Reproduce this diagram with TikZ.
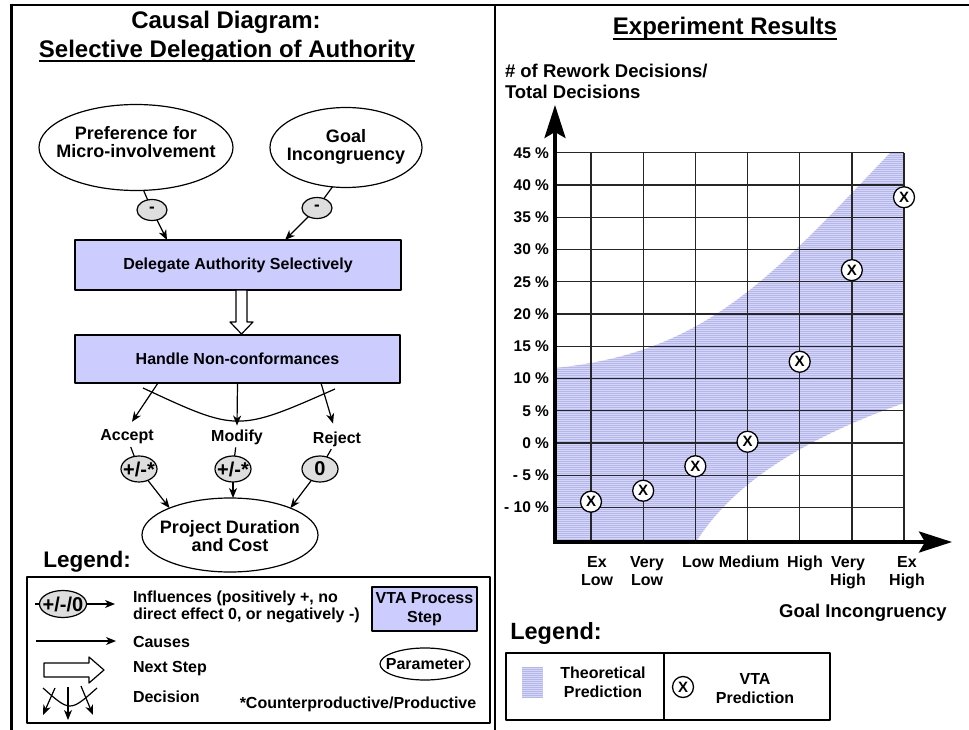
\documentclass[tikz,border=0pt]{standalone}
\usepackage{fontspec}
\setmainfont{Liberation Sans}
\usetikzlibrary{shapes.geometric,arrows.meta,calc}
\definecolor{stepfill}{RGB}{204,204,255}
\definecolor{badgefill}{RGB}{222,222,222}
\definecolor{bandfill}{RGB}{214,214,247}
\definecolor{hatchcol}{RGB}{182,182,238}
\newcommand\fsz[2]{\fontsize{#1}{#2}\selectfont\bfseries}
\newcommand\zw[1]{\makebox[0pt]{#1}}
\begin{document}
\begin{tikzpicture}[x=1pt,y=-1pt,line join=round,
  every node/.style={inner sep=0pt,outer sep=0pt,align=center,font=\fsz{16}{17.5}},
  ttl/.style={font=\fsz{24}{24}},
  param/.style={ellipse,draw,line width=1.2pt,fill=white},
  ptext/.style={font=\fsz{18}{18}},
  badge/.style={ellipse,draw,line width=1.2pt,fill=badgefill,font=\fsz{20}{20}},
  stepbox/.style={rectangle,draw,line width=1.2pt,fill=stepfill},
  conn/.style={line width=1.2pt},
  arr/.style={conn,-{Stealth[length=10pt,width=8pt,inset=3pt]}},
  hollow/.style={line width=1.2pt,fill=white},
  gridline/.style={line width=1.3pt,draw=black!85},
  axisline/.style={line width=3.5pt,-{Stealth[length=33pt,width=21pt,inset=6pt]}},
  hatchline/.style={draw=hatchcol,line width=0.9pt},
  xmark/.style={circle,draw,line width=1.3pt,fill=white,minimum size=21pt,font=\fsz{15}{15}},
  uline/.style={line width=2pt}
]
\useasboundingbox (0,0) rectangle (969,730);

% ---------- frame ----------
\draw[line width=2.5pt] (9.5,5) -- (969,5);
\draw[line width=3pt] (11,3.75) -- (11,730);
\draw[line width=1.3pt] (495,5) -- (495,730);

% ---------- left panel: causal diagram ----------
\node[ttl] (ttl1) at (226,22) {Causal Diagram:};
\node[ttl] (ttl2) at (227,51) {Selective Delegation of Authority};
\draw[uline] ([yshift=-4pt]ttl2.base west) -- ([yshift=-4pt]ttl2.base east);

\node[param,minimum width=194pt,minimum height=86pt] (pref) at (136,147.5) {};
\node[ptext] (preft) at (136,142.5) {Preference for\\Micro-involvement};
\node[param,minimum width=152pt,minimum height=80pt] (goal) at (346,147.5) {};
\node[ptext] (goalt) at (346,146.5) {Goal\\Incongruency};

\node[badge,minimum width=30pt,minimum height=21pt,font=\fsz{17}{17}] (bpref) at (152,210) {\zw{-}};
\node[badge,minimum width=30pt,minimum height=21pt,font=\fsz{17}{17}] (bgoal) at (317,208) {\zw{-}};

\node[stepbox,minimum width=326pt,minimum height=50pt] (dele) at (238,265) {Delegate Authority Selectively};
\node[stepbox,minimum width=325pt,minimum height=48pt] (handle) at (237.5,359) {Handle Non-conformances};

\draw[conn] (pref.-80) -- (bpref);
\draw[arr] (bpref) -- ($(dele.north west)+(92,0)$);
\draw[conn] (goal.-109) -- (bgoal);
\draw[arr] (bgoal) -- ($(dele.north west)+(210,0)$);

% next-step arrow between the two process steps
\draw[hollow] ($(dele.south)+(-2,0)$) -- ++(0,32) -- ++(-6,0) -- ++(11.5,12)
  -- ++(11.5,-12) -- ++(-6,0) -- ++(0,-32) -- cycle;

% decision fan
\node (lacc) at (127,437) {Accept};
\node (lmod) at (237,437) {Modify};
\node (lrej) at (337,439) {Reject};
\draw[arr] ($(handle.south west)+(83,0)$) -- ($(lacc.north)+(5,-8)$);
\draw[arr] (handle.south) -- ($(lmod.north)+(0,-4)$);
\draw[arr] ($(handle.south west)+(246,0)$) -- ($(lrej.north)+(-4,-8)$);
\draw[conn] ($(handle.south west)+(68,5)$) .. controls ($(handle.south)+(0,49)$) .. ($(handle.south east)+(-65,6)$);

\node[badge,minimum width=36pt,minimum height=26pt] (bacc) at (139,469) {\zw{+/-*}};
\node[badge,minimum width=36pt,minimum height=26pt] (bmod) at (233,469) {\zw{+/-*}};
\node[badge,minimum width=36pt,minimum height=26pt] (brej) at (320,469) {\zw{0}};
\draw[conn,shorten <=3pt] (lacc) -- (bacc);
\draw[conn,shorten <=3pt] (lmod) -- (bmod);
\draw[conn,shorten <=3pt] (lrej) -- (brej);

\node[param,minimum width=176pt,minimum height=74pt] (proj) at (230,535) {};
\node[ptext] (projt) at (230,536) {Project Duration\\and Cost};
\draw[arr] (bacc) -- (proj.156);
\draw[arr] (bmod) -- (bmod |- proj.north);
\draw[arr] (brej) -- (proj.24);

% ---------- left legend ----------
\node[font=\fsz{22.5}{22.5}] (legL) at (87,562) {Legend:};
\node[draw,line width=1.2pt,minimum width=463pt,minimum height=146pt] (legLbox) at (258.5,650) {};

\node[badge,minimum width=47pt,minimum height=27pt] (binf) at (63,604) {\zw{+/-/0}};
\coordinate (infA) at (35,604);
\coordinate (infB) at (115,604);
\draw[conn] (infA) -- (binf);
\draw[arr] (binf) -- (infB);
\node[anchor=west,align=left,font=\fsz{16}{17}] (tinf) at (133,606.5) {Influences (positively +, no\\direct effect 0, or negatively -)};

\node[stepbox,minimum width=105pt,minimum height=44pt,font=\fsz{16}{19}] (vtabox) at (424.5,609) {VTA Process\\Step};

\coordinate (cauA) at (36,641);
\coordinate (cauB) at (116,641);
\draw[arr] (cauA) -- (cauB);
\node[anchor=west] (tcau) at (133,642) {Causes};

\draw[hollow] (44,663) -- (89,663) -- (89,657) -- (104,670) -- (89,683) -- (89,677) -- (44,677) -- cycle;
\node[anchor=west] (tnext) at (133,669) {Next Step};

\node[param,minimum width=90pt,minimum height=32pt] (tpar) at (425,664) {\zw{Parameter}};

\coordinate (dA) at (55,688);  \coordinate (dA2) at (43,715);
\coordinate (dB) at (68,687);  \coordinate (dB2) at (68,720);
\coordinate (dC) at (81,686);  \coordinate (dC2) at (93,715);
\draw[arr] (dA) -- (dA2);
\draw[arr] (dB) -- (dB2);
\draw[arr] (dC) -- (dC2);
\coordinate (arcL) at (43,688);
\coordinate (arcR) at (97,688);
\draw[conn] (arcL) .. controls (70,712) .. (arcR);
\node[anchor=west] (tdec) at (133,697) {Decision};
\node (tcp) at (358,704) {*Counterproductive/Productive};

% ---------- right panel: experiment results ----------
\node[ttl] (ttl3) at (725,28) {Experiment Results};
\draw[uline] ([yshift=-4.5pt]ttl3.base west) -- ([yshift=-4.5pt]ttl3.base east);

\node[anchor=west,align=left,font=\fsz{18.5}{21}] (ylab) at (505,81.5) {\# of Rework Decisions/\\Total Decisions};

% theoretical prediction band, tinted and ruled with fine horizontal lines
\begin{scope}
  \clip (555,368) .. controls (705,353) and (770,279) .. (890,153) -- (904,153)
    -- (904,403) .. controls (814,435) and (736,478) .. (696,542) -- (555,542) -- cycle;
  \fill[bandfill] (555,150) rectangle (904,545);
  \foreach \i in {0,...,195}
    \draw[hatchline] (555,{153.5+2*\i}) -- (904,{153.5+2*\i});
\end{scope}

% grid
\foreach \p in {-10,-5,...,45}
  \draw[gridline] (555,{443-6.45*\p}) -- (904,{443-6.45*\p});
\foreach \k in {0,...,6}
  \draw[gridline] ({591+52.17*\k},152.75) -- ({591+52.17*\k},542);

% tick labels
\foreach \p/\t in {45/{45 \%},40/{40 \%},35/{35 \%},30/{30 \%},25/{25 \%},20/{20 \%},
                   15/{15 \%},10/{10 \%},5/{5 \%},0/{0 \%},-5/{- 5 \%},-10/{- 10 \%}}
  \node[anchor=east,font=\fsz{15.5}{15.5}] (yt\p) at (549,{443-6.45*\p}) {\t};

% axes
\coordinate (orig) at (555,542);
\coordinate (ytip) at (555,105);
\coordinate (xtip) at (952,542);
\draw[axisline] ($(orig)+(0,1.75)$) -- (ytip);
\draw[axisline] ($(orig)+(-1.75,0)$) -- (xtip);

% VTA results
\foreach \k/\p in {0/-9.1,1/-7.4,2/-3.6,3/0.2,4/12.6,5/26.8,6/38.1}
  \node[xmark] (vta\k) at ({591+52.17*\k},{443-6.45*\p}) {X};

% category labels
\foreach \x/\t/\n in {597/{Ex\\Low}/c0,647/{Very\\Low}/c1,698/{Low}/c2,749/{Medium}/c3,
                      805/{High}/c4,848/{Very\\High}/c5,907/{Ex\\High}/c6}
  \node[anchor=north,font=\fsz{16}{18}] (\n) at (\x,556) {\t};
\node[font=\fsz{18.5}{18.5}] (xlab) at (863,613) {Goal Incongruency};

% ---------- right legend ----------
\node[font=\fsz{23.5}{23.5}] (legR) at (556,633) {Legend:};
\node[draw,line width=1.2pt,minimum width=324pt,minimum height=67pt] (legRbox) at (668,686.5) {};
\draw[line width=1.2pt] ($(legRbox.north west)+(158,0)$) -- ($(legRbox.south west)+(158,0)$);
\fill[bandfill] (522,667) rectangle (543,698);
\foreach \i in {0,...,15}
  \draw[hatchline] (522,{667.5+2*\i}) -- (543,{667.5+2*\i});
\node[font=\fsz{16}{19}] (ttheo) at (603,682.5) {Theoretical\\Prediction};
\node[xmark] (legx) at (683,687) {X};
\node[font=\fsz{16}{19}] (tvta) at (755,688.5) {VTA\\Prediction};
\end{tikzpicture}
\end{document}
